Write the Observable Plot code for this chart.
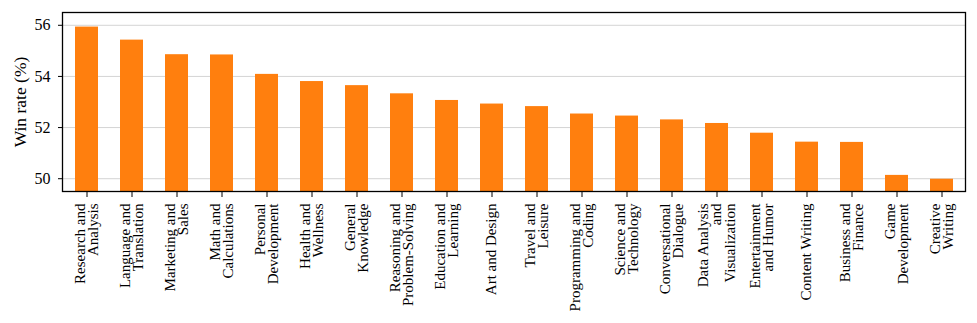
<!DOCTYPE html>
<html>
<head>
<meta charset="utf-8">
<script src="https://cdn.jsdelivr.net/npm/d3@7"></script>
<script src="https://cdn.jsdelivr.net/npm/@observablehq/plot@0.6"></script>
<style>
  html, body { margin: 0; padding: 0; background: #fff; }
</style>
</head>
<body>
<div id="chart"></div>
<script>
const categories = [
  "Research and\nAnalysis", "Language and\nTranslation", "Marketing and\nSales",
  "Math and\nCalculations", "Personal\nDevelopment", "Health and\nWellness",
  "General\nKnowledge", "Reasoning and\nProblem-Solving", "Education and\nLearning",
  "Art and Design", "Travel and\nLeisure", "Programming and\nCoding",
  "Science and\nTechnology", "Conversational\nDialogue", "Data Analysis\nand\nVisualization",
  "Entertainment\nand Humor", "Content Writing", "Business and\nFinance",
  "Game\nDevelopment", "Creative\nWriting"
];
const winRates = [
  55.93, 55.42, 54.85, 54.84, 54.08, 53.80,
  53.64, 53.32, 53.06, 52.92, 52.82, 52.53,
  52.45, 52.30, 52.16, 51.78, 51.43, 51.42,
  50.13, 49.98
];
const yTicks = [50, 52, 54, 56];
const yLabel = "Win rate (%)";

const data = categories.map((c, i) => ({category: c, value: winRates[i]}));

const chart = Plot.plot({
  width: 977,
  height: 323,
  marginLeft: 62,
  marginRight: 12,
  marginTop: 12,
  marginBottom: 132,
  style: {fontFamily: "'Liberation Serif', serif", fontSize: "15px", color: "#000", background: "#fff"},
  x: {domain: categories, paddingInner: 0.5, paddingOuter: 0.25, label: null},
  y: {domain: [49.5, 56.5], label: null},
  marks: [
    Plot.gridY(yTicks, {stroke: "#d4d4d4", strokeOpacity: 1, strokeWidth: 1}),
    Plot.barY(data, {x: "category", y: "value", fill: "#ff7f0e", clip: true}),
    Plot.axisY(yTicks, {tickSize: 4, tickPadding: 8, fontSize: 16, label: null}),
    Plot.text([yLabel], {text: d => d, frameAnchor: "left", rotate: -90, dx: -42, fontSize: 17.5, fill: "#000", textAnchor: "middle"}),
    Plot.axisX({tickSize: 6, tickPadding: 6, tickRotate: -90, textAnchor: "end", lineAnchor: "middle", lineHeight: 0.9, fontSize: 15, label: null}),
    Plot.frame({stroke: "#000", strokeWidth: 1.3})
  ]
});
document.getElementById("chart").appendChild(chart);
</script>
</body>
</html>
